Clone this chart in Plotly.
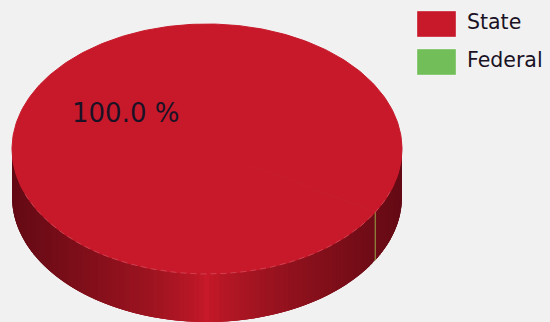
import math
import plotly.graph_objects as go

categories = ["State", "Federal"]
values = [99.96, 0.04]
slice_colors = ["#C8192B", "#72BF5A"]
BG = "#F1F1F1"
TEXT = "#1A1224"

CX, CY, RX, RY, DEPTH = 207, 149, 195, 125, 48
START_DEG = 30.3  # clockwise from 3 o'clock, on screen: where Federal begins
total = sum(values)


def pt(deg, dy=0):
    a = math.radians(deg)
    return CX + RX * math.cos(a), CY + RY * math.sin(a) + dy


def shade(hex_color, t):
    r, g, b = int(hex_color[1:3], 16), int(hex_color[3:5], 16), int(hex_color[5:7], 16)
    f = 1 - 0.50 * t ** 0.7
    return f"rgb({r*f:.0f},{g*f*0.8 + g*0.2*(1-t):.0f},{b*f*0.95:.0f})"


fig = go.Figure()

# Angular extents of each slice, from the values. State starts right after
# Federal and runs clockwise; Federal is the remaining sliver.
sweeps = [v / total * 360 for v in values]
extents = []
a = START_DEG + sweeps[1]
for s in sweeps:
    extents.append((a, a + s))
    a += s

# Rim (only the front half, 0..180 degrees on screen, is visible).
# Strips overlap their neighbours so that no seams show.
STEP = 1.5
for (a0, a1), color in zip(extents, slice_colors):
    ranges = []
    for k in (-1, 0, 1):
        lo, hi = max(a0, 360 * k), min(a1, 360 * k + 180)
        if hi > lo:
            ranges.append((lo, hi))
    for lo, hi in ranges:
        thin = hi - lo < 2
        n = max(1, int((hi - lo) / STEP))
        for i in range(n):
            p0 = lo + (hi - lo) * i / n
            p1 = lo + (hi - lo) * (i + 1) / n
            end = p1 if thin else min(hi, p1 + 2 * STEP)
            m = 4
            steps = [p0 + (end - p0) * j / m for j in range(m + 1)]
            top = [pt(p, -1) for p in steps]
            bot = [pt(p, DEPTH) for p in reversed(steps)]
            poly = top + bot + top[:1]
            t = abs(math.cos(math.radians((p0 + p1) / 2)))
            c = "rgba(150,170,70,0.55)" if thin else shade(color, t)
            fig.add_trace(go.Scatter(
                x=[q[0] for q in poly], y=[q[1] for q in poly],
                mode="lines", fill="toself", fillcolor=c,
                line=dict(color=c, width=1 if thin else 0),
                hoverinfo="skip", showlegend=False))

# Top face wedges, sliver first so the stroke of the main wedge covers it
for (a0, a1), color, name in reversed(list(zip(extents, slice_colors, categories))):
    n = max(2, int((a1 - a0) / 1.0))
    arc = [pt(a0 + (a1 - a0) * i / n) for i in range(n + 1)]
    poly = [(CX, CY)] + arc + [(CX, CY)]
    fig.add_trace(go.Scatter(
        x=[q[0] for q in poly], y=[q[1] for q in poly],
        mode="lines", fill="toself", fillcolor=color,
        line=dict(color=color, width=1), name=name,
        showlegend=False, hoverinfo="name"))

# Pale seam along the front of the top rim
arc = [pt(20 + 140 * i / 200) for i in range(201)]
fig.add_trace(go.Scatter(
    x=[q[0] for q in arc], y=[q[1] for q in arc], mode="lines",
    line=dict(color="rgba(235,170,175,0.40)", width=0.7, dash="6px,4px"),
    hoverinfo="skip", showlegend=False))

annotations = [dict(
    x=125, y=113, xref="x", yref="y", showarrow=False,
    text=f"{values[0] / total * 100:.1f} %",
    font=dict(family="DejaVu Sans", size=26, color=TEXT),
)]
shapes = []
for i, (name, color) in enumerate(zip(categories, slice_colors)):
    y0 = 11 + 38 * i
    shapes.append(dict(type="rect", xref="x", yref="y", x0=417, x1=456, y0=y0, y1=y0 + 26,
                       fillcolor=color, line=dict(color="rgba(255,255,255,0.35)", width=1)))
    annotations.append(dict(
        x=465, y=y0 + 11, xref="x", yref="y", xanchor="left", showarrow=False,
        text=name, font=dict(family="DejaVu Sans", size=20.5, color=TEXT)))

fig.update_layout(
    width=550, height=322, margin=dict(l=0, r=0, t=0, b=0),
    paper_bgcolor=BG, plot_bgcolor=BG,
    xaxis=dict(range=[0, 550], visible=False, fixedrange=True),
    yaxis=dict(range=[322, 0], visible=False, fixedrange=True),
    shapes=shapes, annotations=annotations, showlegend=False,
)
fig.write_html("out.html", config={"displayModeBar": False},
               post_script="document.body.style.margin='0';document.body.style.background='#F1F1F1';document.body.style.overflow='hidden';")
